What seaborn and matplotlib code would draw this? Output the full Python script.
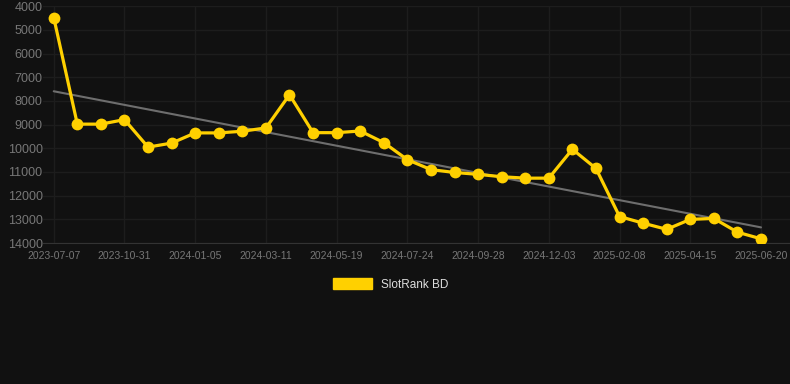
import pandas as pd
import numpy as np
import seaborn as sns
import matplotlib.pyplot as plt
from matplotlib.patches import Patch

# 排名数据 (y 轴反向)
rank = [4480, 8980, 8980, 8790, 9950, 9780, 9350, 9350, 9280, 9140,
        7740, 9340, 9340, 9270, 9760, 10480, 10900, 11020, 11100, 11200,
        11260, 11260, 10040, 10850, 12880, 13160, 13420, 13000, 12960, 13540,
        13820]
tick_labels = ['2023-07-07', '2023-10-31', '2024-01-05', '2024-03-11', '2024-05-19',
               '2024-07-24', '2024-09-28', '2024-12-03', '2025-02-08', '2025-04-15',
               '2025-06-20']
series_name = 'SlotRank BD'


def rank_chart():
    sns.set_style('dark')
    plt.rcParams['font.family'] = ['Liberation Sans', 'DejaVu Sans']
    plt.rcParams['font.size'] = 8
    bg = '#111111'
    df = pd.DataFrame({'idx': np.arange(len(rank)), 'rank': rank})

    fig = plt.figure(figsize=(7.9, 3.84), dpi=100, facecolor=bg)
    ax = fig.add_axes([0.054, 0.367, 0.946, 0.617])
    ax.set_facecolor(bg)

    # 趋势线
    k, b = np.polyfit(df['idx'], df['rank'], 1)
    df['trend'] = k * df['idx'] + b
    sns.lineplot(data=df, x='idx', y='trend', ax=ax, color='#6e6e6e', linewidth=1.5, zorder=2)

    sns.lineplot(data=df, x='idx', y='rank', ax=ax, color='#ffd000', linewidth=2.3,
                 marker='o', markersize=8.5, markeredgewidth=0, zorder=3)

    ax.set_ylim(14000, 4000)
    ax.set_xlim(-0.47, 31.23)
    ax.set_yticks(np.arange(4000, 14001, 1000))
    ax.set_xticks(np.arange(0, len(rank), 3))
    ax.set_xticklabels(tick_labels)
    ax.set_xlabel('')
    ax.set_ylabel('')

    ax.grid(True, color='#1d1d1d', linewidth=1)
    ax.tick_params(axis='y', colors='#777777', labelsize=9, length=0, pad=0)
    ax.tick_params(axis='x', colors='#2a2a2a', labelcolor='#777777', labelsize=7.5,
                   length=4, width=1, pad=2)
    for s in ['top', 'right', 'left']:
        ax.spines[s].set_visible(False)
    ax.spines['bottom'].set_color('#333333')

    # 图例用方块
    ax.legend(handles=[Patch(facecolor='#ffd000', edgecolor='#ffd000', label=series_name)],
              loc='center', bbox_to_anchor=(0.466, -0.175), frameon=False,
              handlelength=3.3, handleheight=1.0, fontsize=8.5, labelcolor='#dddddd')

    fig.savefig('out.png', facecolor=bg)


if __name__ == '__main__':
    rank_chart()
